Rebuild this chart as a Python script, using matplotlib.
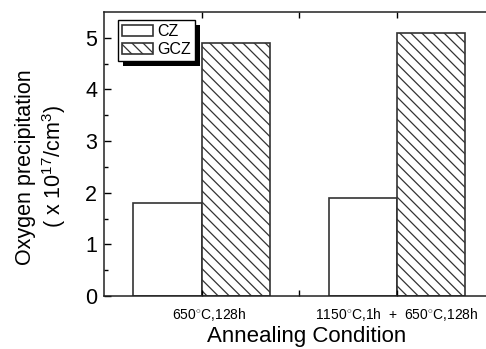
import numpy as np
import matplotlib
matplotlib.use('Agg')
import matplotlib.pyplot as plt
import matplotlib.transforms as mtransforms
from matplotlib.patches import Rectangle

plt.rcParams['font.family'] = ['Liberation Sans', 'DejaVu Sans']
plt.rcParams['mathtext.fontset'] = 'custom'
plt.rcParams['mathtext.rm'] = 'Liberation Sans'
plt.rcParams['hatch.linewidth'] = 0.9
plt.rcParams['hatch.color'] = '#222222'

conditions = ['650$^{\\circ}$C,128h', '1150$^{\\circ}$C,1h  +  650$^{\\circ}$C,128h']
cz = [1.8, 1.9]
gcz = [4.9, 5.1]

x = np.array([1, 2])
w = 0.35

fig = plt.figure(figsize=(4.86, 3.49), dpi=100)
ax = fig.add_axes([104/486, 53/349, 1 - 104/486, 284/349])

ax.bar(x - w/2, cz, w, color='white', edgecolor='#333333', linewidth=1.2, label='CZ')
ax.bar(x + w/2, gcz, w, color='white', edgecolor='#333333', linewidth=1.2,
       hatch='\\\\\\', label='GCZ')

ax.set_xlim(0.5, 2.456)
ax.set_ylim(0, 5.5)
ax.set_xticks([1, 1.5, 2])
ax.set_xticklabels([conditions[0], '', conditions[1]], fontsize=10)
ax.set_yticks(range(6))
ax.set_yticks(np.arange(0.5, 5.5, 1), minor=True)
ax.tick_params(axis='y', labelsize=15.5, direction='in', length=5, width=1, pad=5)
ax.tick_params(axis='y', which='minor', direction='in', length=3, width=1)
ax.tick_params(axis='x', direction='in', length=4, width=1, top=True, pad=7)
ax.spines['right'].set_visible(False)
for s in ['left', 'top', 'bottom']:
    ax.spines[s].set_linewidth(1.1)
    ax.spines[s].set_color('#222222')

# first label sits a bit right of its tick in the original
lab0 = ax.get_xticklabels()[0]
lab0.set_transform(lab0.get_transform() +
                   mtransforms.ScaledTranslation(8/100, 0, fig.dpi_scale_trans))

ax.set_xlabel('Annealing Condition', fontsize=16)
ax.xaxis.set_label_coords(0.531, -0.106)
ax.set_ylabel('Oxygen precipitation\n( x 10$^{17}$/cm$^3$)', fontsize=15.5,
              linespacing=1.2)
ax.yaxis.set_label_coords(-0.093, 0.455)

leg = ax.legend(loc='upper left', bbox_to_anchor=(0.037, 0.972), fontsize=11.5,
                fancybox=False, edgecolor='black', framealpha=1,
                handlelength=1.95, handleheight=0.75, handletextpad=0.25,
                borderpad=0.25, labelspacing=0.2, borderaxespad=0)
leg.get_frame().set_linewidth(1)
leg.set_zorder(6)

# black drop shadow behind the legend box
fig.canvas.draw()
bb = leg.get_window_extent().transformed(fig.transFigure.inverted())
fig.add_artist(Rectangle((bb.x0 + 5/486, bb.y0 - 5/349), bb.width, bb.height,
                         transform=fig.transFigure, facecolor='black',
                         edgecolor='none', zorder=5))
leg.remove()
fig.add_artist(leg)

fig.savefig('out.png', dpi=100)
